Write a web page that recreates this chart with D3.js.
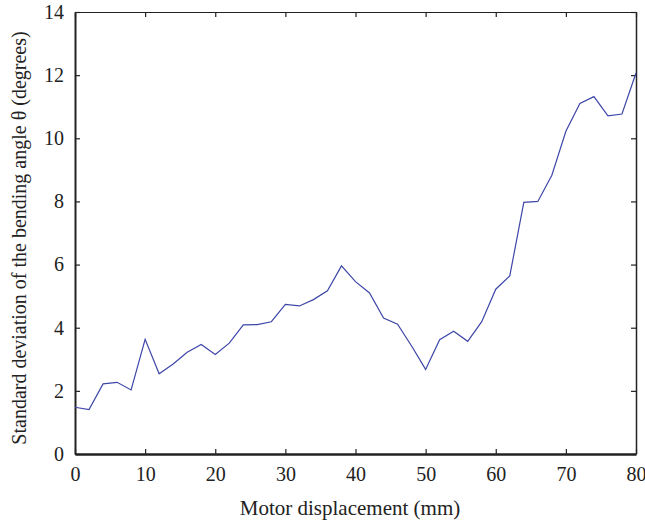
<!DOCTYPE html>
<html>
<head>
<meta charset="utf-8">
<script src="https://cdn.jsdelivr.net/npm/d3@7"></script>
<style>
  body { margin: 0; background: #fff; }
  svg text { font-family: "Liberation Serif", "DejaVu Serif", serif; fill: #222; }
</style>
</head>
<body>
<script>
// motor displacement (mm)
const displacement = d3.range(0, 81, 2);
// standard deviation of bending angle (degrees)
const stdDev = [1.48, 1.41, 2.22, 2.27, 2.03, 3.63, 2.54, 2.85, 3.22, 3.47,
  3.15, 3.51, 4.09, 4.10, 4.19, 4.74, 4.69, 4.89, 5.17, 5.96,
  5.46, 5.10, 4.31, 4.11, 3.42, 2.68, 3.62, 3.89, 3.57, 4.19,
  5.22, 5.64, 7.97, 8.00, 8.83, 10.22, 11.10, 11.32, 10.71, 10.77, 12.07];
const xTicks = [0, 10, 20, 30, 40, 50, 60, 70, 80];
const yTicks = [0, 2, 4, 6, 8, 10, 12, 14];

const dims = { w: 645, h: 523, pl: 75, pr: 9, pt: 12, pb: 69 };

const svg = d3.select("body").append("svg")
  .attr("width", dims.w)
  .attr("height", dims.h);

const x = d3.scaleLinear().domain([0, 80]).range([dims.pl, dims.w - dims.pr]);
const y = d3.scaleLinear().domain([0, 14]).range([dims.h - dims.pb, dims.pt]);

const styleAxis = g => {
  g.select(".domain").attr("stroke", "#222").attr("stroke-width", 1.5);
  g.selectAll(".tick line").attr("stroke", "#222").attr("stroke-width", 1.2);
  g.selectAll(".tick text").attr("font-size", 20).attr("fill", "#222");
};

svg.append("g")
  .attr("transform", `translate(0,${dims.h - dims.pb})`)
  .call(d3.axisBottom(x).tickValues(xTicks).tickSize(-5).tickSizeOuter(0).tickPadding(13))
  .call(styleAxis)
  .call(g => g.select(".domain").attr("stroke-width", 2.5));

svg.append("g")
  .attr("transform", `translate(0,${dims.pt})`)
  .call(d3.axisTop(x).tickValues(xTicks).tickSize(-5).tickSizeOuter(0).tickFormat(""))
  .call(styleAxis)
  .call(g => g.select(".domain").attr("stroke-width", 1.2));

svg.append("g")
  .attr("transform", `translate(${dims.pl},0)`)
  .call(d3.axisLeft(y).tickValues(yTicks).tickSize(-5).tickSizeOuter(0).tickPadding(11))
  .call(styleAxis)
  .call(g => g.select(".domain").attr("stroke-width", 2));

svg.append("g")
  .attr("transform", `translate(${dims.w - dims.pr},0)`)
  .call(d3.axisRight(y).tickValues(yTicks).tickSize(-5).tickSizeOuter(0).tickFormat(""))
  .call(styleAxis);

const line = d3.line()
  .x((d, i) => x(displacement[i]))
  .y(d => y(d));

svg.append("path")
  .datum(stdDev)
  .attr("fill", "none")
  .attr("stroke", "#3d47a8")
  .attr("stroke-width", 1.2)
  .attr("d", line);

svg.append("text")
  .attr("x", 350)
  .attr("y", 515)
  .attr("text-anchor", "middle")
  .attr("font-size", 21)
  .text("Motor displacement (mm)");

svg.append("text")
  .attr("transform", `translate(26,238) rotate(-90)`)
  .attr("text-anchor", "middle")
  .attr("font-size", 20)
  .text("Standard deviation of the bending angle θ (degrees)");
</script>
</body>
</html>
